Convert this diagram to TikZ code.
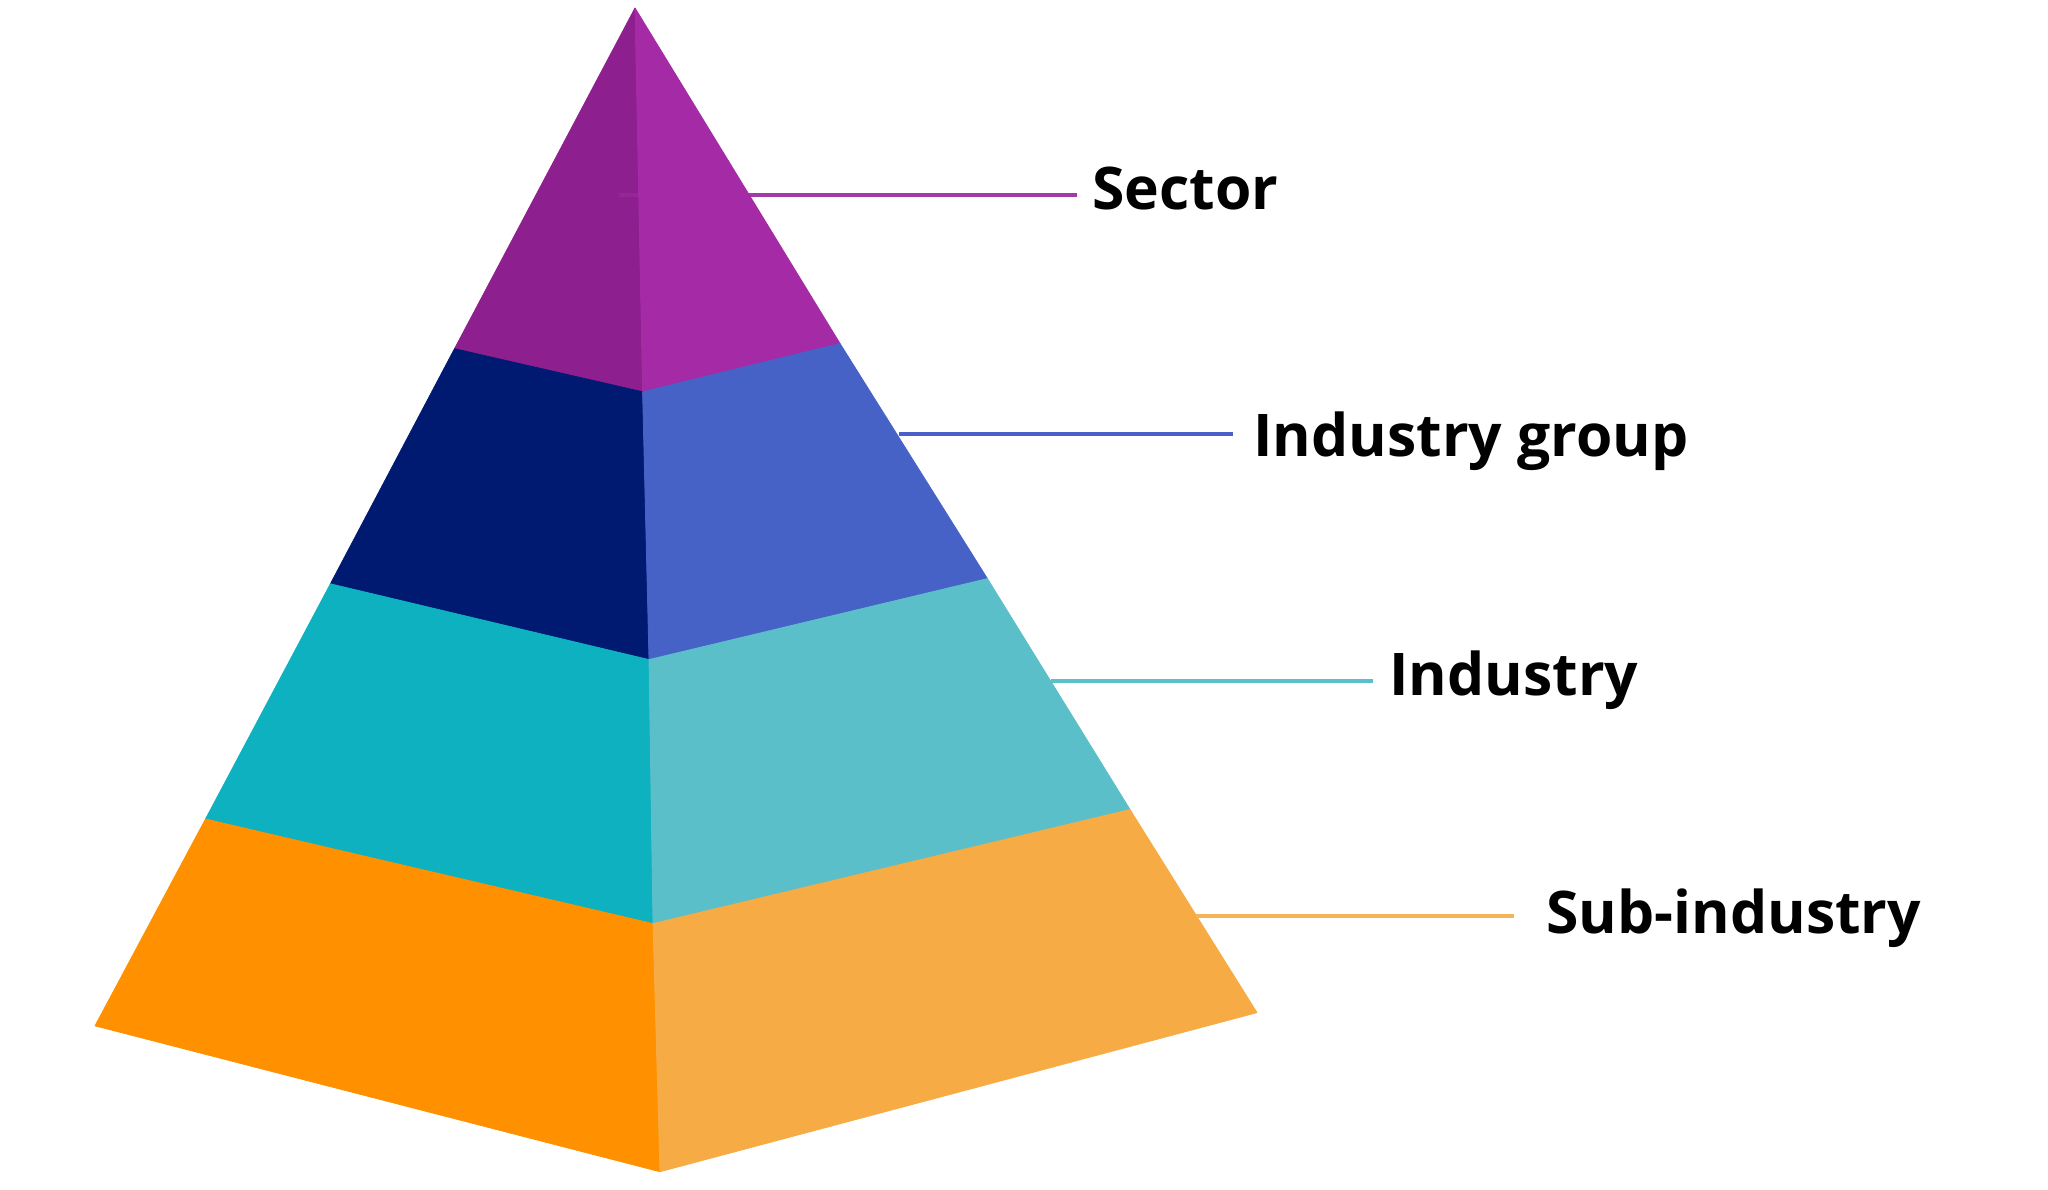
\documentclass[tikz,border=0pt]{standalone}
\usepackage{fontspec}
\newfontfamily\labelfont{Open Sans}
\definecolor{secL}{HTML}{8E1F8E}
\definecolor{secR}{HTML}{A42AA6}
\definecolor{grpL}{HTML}{001A72}
\definecolor{grpR}{HTML}{4762C6}
\definecolor{indL}{HTML}{0DB1BF}
\definecolor{indR}{HTML}{5ABFC8}
\definecolor{subL}{HTML}{FF9100}
\definecolor{subR}{HTML}{F6AB45}
\definecolor{secLine}{HTML}{A33AAA}
\definecolor{grpLine}{HTML}{4A5FC8}
\definecolor{indLine}{HTML}{5BC0C9}
\definecolor{subLine}{HTML}{F6B35A}
\tikzset{
  lbl/.style={anchor=base west, inner sep=0pt, text=black,
    font=\labelfont\bfseries\fontsize{29.4}{32}\selectfont},
  leader/.style={line width=1.75pt},
  face/.style={fill=#1, draw=#1, line width=0.4pt, line join=round}
}
\begin{document}
\begin{tikzpicture}[x=0.5pt,y=-0.5pt]
\useasboundingbox (0,0) rectangle (2048,1189);
% pyramid vertices
\coordinate (A) at (635,8);
\coordinate (L1) at (454.5,348.7); \coordinate (F1) at (642.6,391.8); \coordinate (R1) at (840,343.5);
\coordinate (L2) at (330.4,583.8); \coordinate (F2) at (649,659.6); \coordinate (R2) at (987.4,578.6);
\coordinate (L3) at (205.5,819); \coordinate (F3) at (653,923.6); \coordinate (R3) at (1130,809.5);
\coordinate (L4) at (95,1025.8); \coordinate (F4) at (660,1171.7); \coordinate (R4) at (1257,1012.6);
% leader line coordinates
\coordinate (s1) at (619,195);   \coordinate (s0) at (638.7,195); \coordinate (s2) at (1077,195);
\coordinate (g1) at (898.6,434); \coordinate (g2) at (1233,434);
\coordinate (i1) at (1051,681);  \coordinate (i2) at (1373,681);
\coordinate (u1) at (1196,916);  \coordinate (u2) at (1514,916);
% sector leader runs behind the pyramid
\draw[leader, secLine] (s1) -- (s2);
% faces
\path[face=secL] (A) -- (L1) -- (F1) -- cycle;
\path[face=secR] (A) -- (F1) -- (R1) -- cycle;
\path[face=grpL] (L1) -- (L2) -- (F2) -- (F1) -- cycle;
\path[face=grpR] (F1) -- (F2) -- (R2) -- (R1) -- cycle;
\path[face=indL] (L2) -- (L3) -- (F3) -- (F2) -- cycle;
\path[face=indR] (F2) -- (F3) -- (R3) -- (R2) -- cycle;
\path[face=subL] (L3) -- (L4) -- (F4) -- (F3) -- cycle;
\path[face=subR] (F3) -- (F4) -- (R4) -- (R3) -- cycle;
% faint trace of the sector leader on the left face
\draw[leader, secLine, opacity=0.35] (s1) -- (s0);
% labels
\node[lbl] (sector) at (1092,209) {Sector};
\node[lbl] (group) at (1253,456) {Industry group};
\node[lbl] (industry) at (1389,695) {Industry};
\node[lbl] (sub) at (1546,933.5) {Sub-industry};
% leader lines
\draw[leader, grpLine] (g1) -- (g2);
\draw[leader, indLine] (i1) -- (i2);
\draw[leader, subLine] (u1) -- (u2);
\end{tikzpicture}
\end{document}
